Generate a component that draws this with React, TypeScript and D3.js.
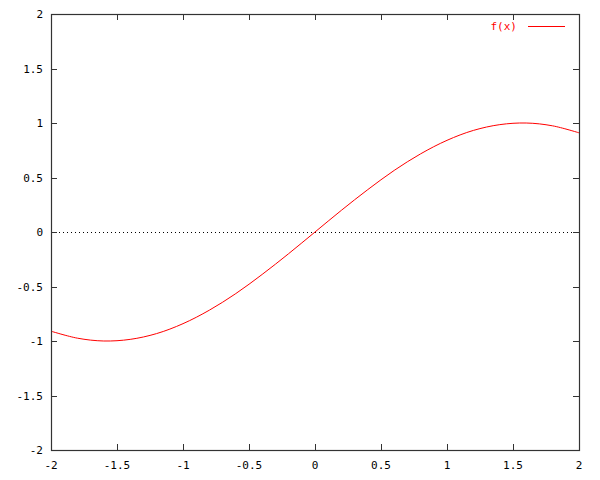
import React, { useEffect, useRef } from 'react';
import * as d3 from 'd3';

// sample points
const xs = [-2, -1.8, -1.6, -1.4, -1.2, -1, -0.8, -0.6, -0.4, -0.2, 0, 0.2, 0.4, 0.6, 0.8, 1, 1.2, 1.4, 1.6, 1.8, 2];
const ys = [-0.91, -0.974, -1.0, -0.985, -0.932, -0.841, -0.717, -0.565, -0.389, -0.199, 0, 0.199, 0.389, 0.565, 0.717, 0.841, 0.932, 0.985, 1.0, 0.974, 0.91];
const xTicks = [-2, -1.5, -1, -0.5, 0, 0.5, 1, 1.5, 2];
const yTicks = [-2, -1.5, -1, -0.5, 0, 0.5, 1, 1.5, 2];
const legendLabel = 'f(x)';

export default function App() {
  const svgRef = useRef<SVGSVGElement>(null);

  useEffect(() => {
    const width = 600;
    const height = 480;
    const margin = { top: 14, right: 21, bottom: 30, left: 51 };
    const innerW = width - margin.left - margin.right;
    const innerH = height - margin.top - margin.bottom;

    const svg = d3.select(svgRef.current);
    svg.selectAll('*').remove();
    svg.append('rect').attr('width', width).attr('height', height).attr('fill', '#fff');

    const g = svg.append('g').attr('transform', `translate(${margin.left},${margin.top})`);

    const x = d3.scaleLinear().domain([-2, 2]).range([0, innerW]);
    const y = d3.scaleLinear().domain([-2, 2]).range([innerH, 0]);

    const font = "'DejaVu Sans Mono', monospace";

    // zero line
    g.append('line')
      .attr('x1', 0).attr('x2', innerW)
      .attr('y1', y(0) + 0.5).attr('y2', y(0) + 0.5)
      .attr('stroke', '#000')
      .attr('stroke-width', 1)
      .attr('stroke-dasharray', '1,3');

    // ticks (inward, both sides)
    const tk = 6;
    xTicks.forEach(t => {
      const px = Math.round(x(t)) + 0.5;
      g.append('line').attr('x1', px).attr('x2', px).attr('y1', innerH).attr('y2', innerH - tk).attr('stroke', '#333');
      g.append('line').attr('x1', px).attr('x2', px).attr('y1', 0).attr('y2', tk).attr('stroke', '#333');
      g.append('text')
        .attr('x', x(t)).attr('y', innerH + 19)
        .attr('text-anchor', 'middle')
        .style('font-family', font).style('font-size', '11px')
        .attr('fill', '#000')
        .text(String(t));
    });
    yTicks.forEach(t => {
      const py = Math.round(y(t)) + 0.5;
      g.append('line').attr('x1', 0).attr('x2', tk).attr('y1', py).attr('y2', py).attr('stroke', '#333');
      g.append('line').attr('x1', innerW).attr('x2', innerW - tk).attr('y1', py).attr('y2', py).attr('stroke', '#333');
      g.append('text')
        .attr('x', -8).attr('y', y(t) + 4)
        .attr('text-anchor', 'end')
        .style('font-family', font).style('font-size', '11px')
        .attr('fill', '#000')
        .text(String(t));
    });

    // curve
    const line = d3.line<number>()
      .x((_, i) => x(xs[i]))
      .y(d => y(d))
      .curve(d3.curveCatmullRom);
    g.append('path')
      .datum(ys)
      .attr('fill', 'none')
      .attr('stroke', '#ff0000')
      .attr('stroke-width', 1)
      .attr('d', line);

    // border
    g.append('rect')
      .attr('x', 0.5).attr('y', 0.5)
      .attr('width', innerW).attr('height', innerH)
      .attr('fill', 'none')
      .attr('stroke', '#333')
      .attr('stroke-width', 1.2);

    // legend
    g.append('text')
      .attr('x', 517 - margin.left).attr('y', 30 - margin.top)
      .attr('text-anchor', 'end')
      .style('font-family', font).style('font-size', '11px')
      .attr('fill', '#ff0000')
      .text(legendLabel);
    g.append('line')
      .attr('x1', 528 - margin.left).attr('x2', 565 - margin.left)
      .attr('y1', 26.5 - margin.top).attr('y2', 26.5 - margin.top)
      .attr('stroke', '#ff0000')
      .attr('stroke-width', 1);
  }, []);

  return (
    <svg ref={svgRef} width={600} height={480} style={{ position: 'absolute', left: 0, top: 0 }} />
  );
}
